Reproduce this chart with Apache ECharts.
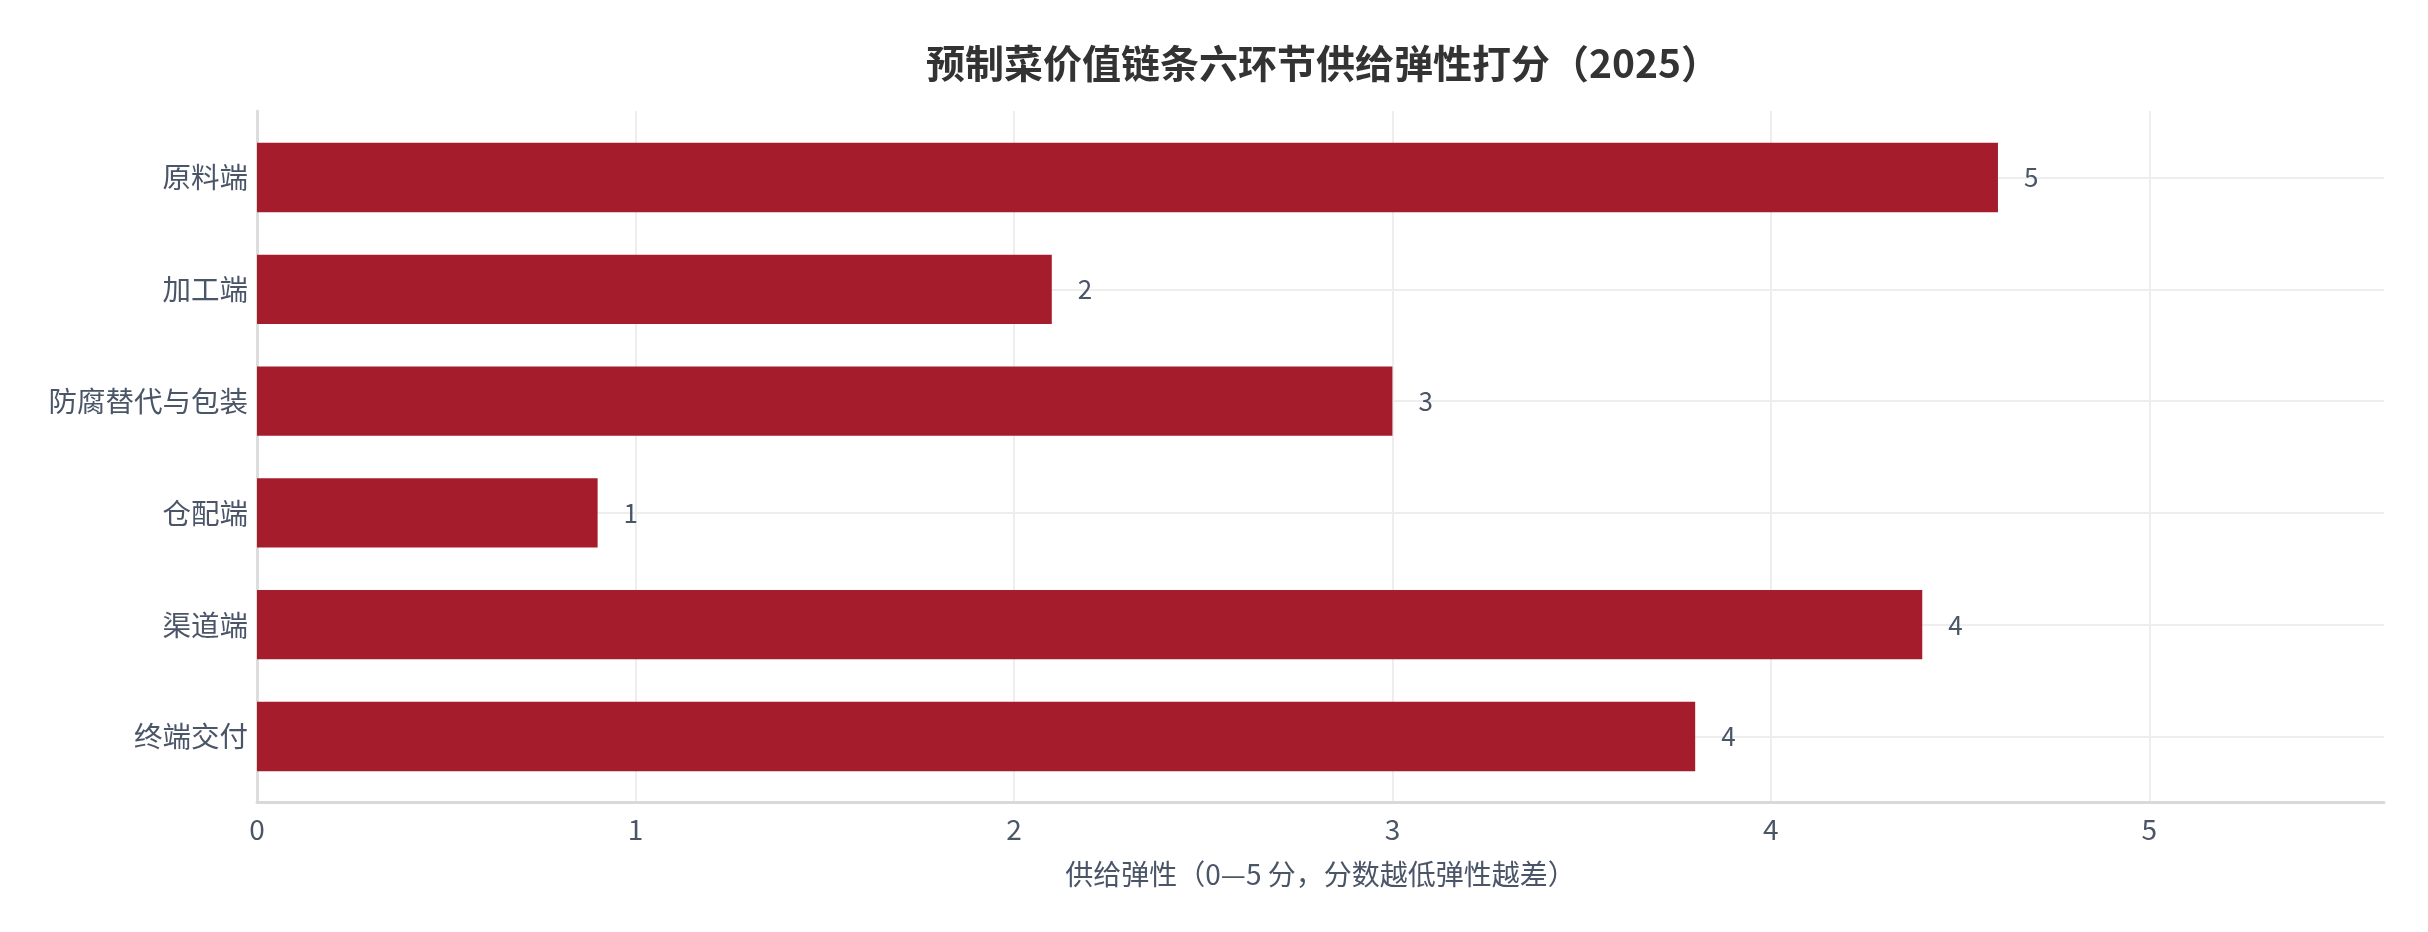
<!DOCTYPE html>
<html>
<head>
<meta charset="utf-8" />
<script src="https://cdn.jsdelivr.net/npm/echarts@6/dist/echarts.min.js"></script>
<style>
  html, body { margin: 0; padding: 0; background: #ffffff; }
  #chart { width: 2428px; height: 932px; }
</style>
</head>
<body>
<div id="chart"></div>
<script>
// 六个环节（自上而下）
const stages = ["原料端", "加工端", "防腐替代与包装", "仓配端", "渠道端", "终端交付"];
// 供给弹性打分
const scores = [4.6, 2.1, 3.0, 0.9, 4.4, 3.8];
const xTicks = [0, 1, 2, 3, 4, 5];

const FONT = "'Noto Sans CJK SC', 'Noto Sans', sans-serif";
const TEXT = "#4a5568";
const X_MAX = 5.62;

const myChart = echarts.init(document.getElementById("chart"));

const option = {
  backgroundColor: "#ffffff",
  textStyle: { fontFamily: FONT },
  title: {
    text: "预制菜价值链条六环节供给弹性打分（2025）",
    left: 921,
    top: 39,
    textStyle: { fontSize: 39, fontWeight: "bold", color: "#333333", fontFamily: FONT },
  },
  grid: [
    // 外框：坐标轴线 + 纵向网格
    { left: 257, right: 44, top: 111, bottom: 130 },
    // 柱子所在区域
    { left: 257, right: 44, top: 121.6, bottom: 139.6 },
  ],
  xAxis: [
    {
      gridIndex: 0,
      type: "value",
      min: 0,
      max: X_MAX,
      interval: 1,
      name: "供给弹性（0—5 分，分数越低弹性越差）",
      nameLocation: "middle",
      nameGap: 58,
      nameTextStyle: { fontSize: 28, color: TEXT, fontFamily: FONT },
      axisLine: { show: true, lineStyle: { color: "#d9d9d9", width: 3 } },
      axisTick: { show: false },
      axisLabel: {
        fontSize: 28,
        color: TEXT,
        margin: 13,
        showMaxLabel: false,
        formatter: (v) => (xTicks.includes(v) ? String(v) : ""),
      },
      splitLine: {
        show: true,
        showMinLine: false,
        showMaxLine: false,
        lineStyle: { color: "#eeeeee", width: 2 },
      },
    },
    {
      gridIndex: 1,
      type: "value",
      min: 0,
      max: X_MAX,
      show: false,
    },
  ],
  yAxis: [
    {
      gridIndex: 0,
      type: "value",
      min: 0,
      max: 1,
      axisLine: { show: true, lineStyle: { color: "#dddddd", width: 3 } },
      axisTick: { show: false },
      axisLabel: { show: false },
      splitLine: { show: false },
    },
    {
      gridIndex: 1,
      type: "category",
      inverse: true,
      data: stages,
      axisLine: { show: false },
      axisTick: { show: false },
      axisLabel: { fontSize: 28.5, color: TEXT, margin: 9 },
      splitLine: {
        show: true,
        alignWithLabel: true,
        lineStyle: { color: "#eeeeee", width: 2 },
      },
    },
  ],
  series: [
    {
      type: "bar",
      xAxisIndex: 1,
      yAxisIndex: 1,
      data: scores,
      barCategoryGap: "38%",
      itemStyle: { color: "#a51c2c" },
      label: {
        show: true,
        position: "right",
        distance: 26,
        fontSize: 26,
        color: TEXT,
        formatter: (p) => String(Math.round(p.value)),
      },
    },
  ],
};

myChart.setOption(option, true);
</script>
</body>
</html>
